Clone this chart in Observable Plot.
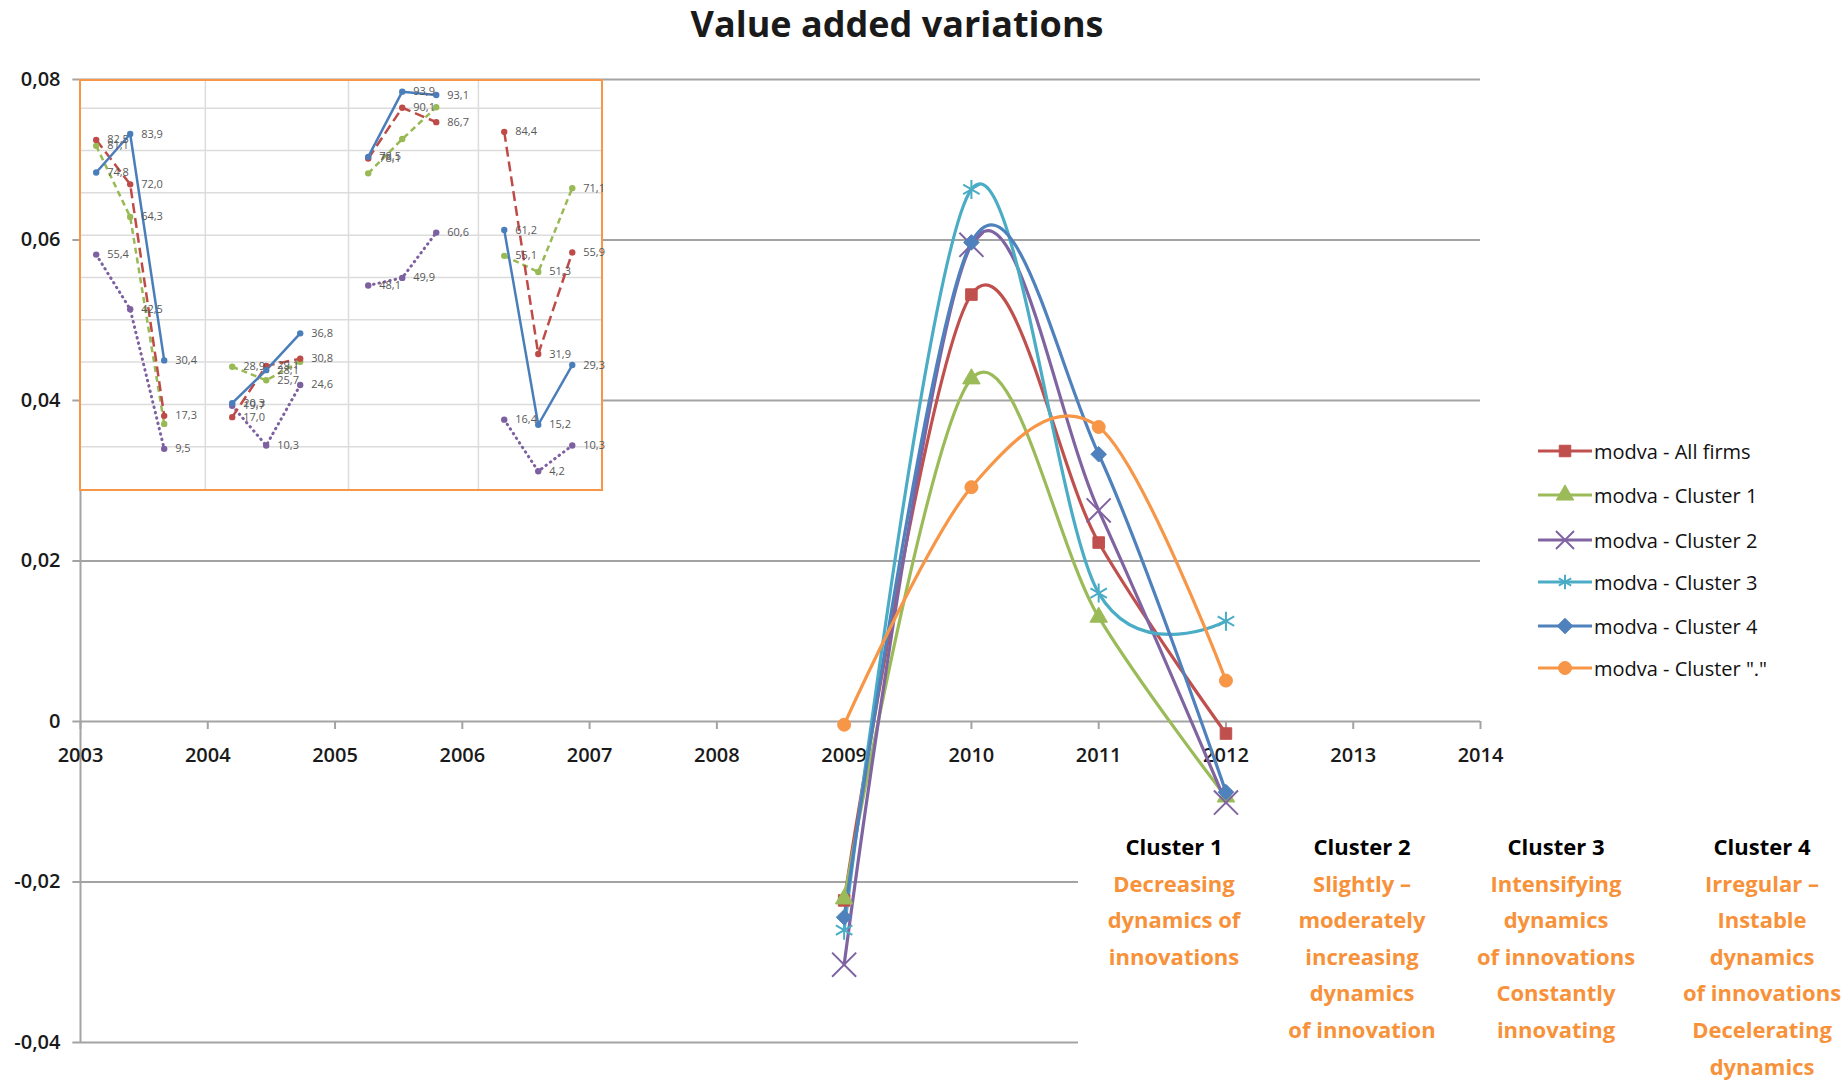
<!DOCTYPE html>
<html>
<head>
<meta charset="utf-8">
<script src="https://cdn.jsdelivr.net/npm/d3@7"></script>
<script src="https://cdn.jsdelivr.net/npm/@observablehq/plot@0.6"></script>
<style>
  body { margin: 0; background: #fff; }
  #wrap { position: relative; width: 1848px; height: 1081px; overflow: hidden; font-family: "Open Sans", "Noto Sans", sans-serif; background: #fff; }
  #main { position: absolute; left: 0; top: 0; }
  #title { position: absolute; left: 497px; top: 0; width: 800px; text-align: center; font-size: 36px; line-height: 48px; font-weight: 700; color: #1a1a1a; }
  #inset { position: absolute; left: 79px; top: 79px; border: 2px solid #F79646; background: #fff; line-height: 0; }
  #legend { position: absolute; left: 1538px; top: 0; }
  .lg-row { position: absolute; left: 0; height: 24px; display: flex; align-items: center; white-space: nowrap; font-size: 20px; color: #111; }
  .lg-row svg { margin-right: 2px; }
  #notes { position: absolute; left: 1078px; top: 822px; width: 770px; height: 259px; background: #fff; }
  .col { position: absolute; top: 6px; width: 200px; margin-left: -100px; text-align: center; font-size: 22px; font-weight: 700; line-height: 36.6px; color: #F7923A; white-space: nowrap; }
  .col .head { color: #000; }
</style>
</head>
<body>
<div id="wrap">
  <div id="main"></div>
  <div id="title">Value added variations</div>
  <div id="inset"></div>
  <div id="legend"></div>
  <div id="notes"></div>
</div>
<script>
// ---- main chart data: yearly value added variation per group ----
const years = [2009, 2010, 2011, 2012];
const seriesNames = [
  "modva - All firms",
  "modva - Cluster 1",
  "modva - Cluster 2",
  "modva - Cluster 3",
  "modva - Cluster 4",
  'modva - Cluster "."'
];
const allFirms   = [-0.0223, 0.0532, 0.0223, -0.0015];
const cluster1   = [-0.0221, 0.0427, 0.0130, -0.0094];
const cluster2   = [-0.0303, 0.0594, 0.0263, -0.0101];
const cluster3   = [-0.0260, 0.0663, 0.0160,  0.0125];
const cluster4   = [-0.0244, 0.0597, 0.0333, -0.0088];
const clusterDot = [-0.0004, 0.0292, 0.0367,  0.0051];

const axisYears = [2003, 2004, 2005, 2006, 2007, 2008, 2009, 2010, 2011, 2012, 2013, 2014];
const yTicks = [0.08, 0.06, 0.04, 0.02, 0, -0.02, -0.04];

// ---- inset data: four groups of three observations per profile ----
const insetSlots  = [0, 1, 2, 4, 5, 6, 8, 9, 10, 12, 13, 14];
const insetBlue   = [74.8, 83.9, 30.4, 20.3, 28.1, 36.8, 78.5, 93.9, 93.1, 61.2, 15.2, 29.3];
const insetRed    = [82.5, 72.0, 17.3, 17.0, 29.1, 30.8, 78.1, 90.1, 86.7, 84.4, 31.9, 55.9];
const insetGreen  = [81.1, 64.3, 15.4, 28.9, 25.7, 30.1, 74.6, 82.7, 90.2, 55.1, 51.3, 71.1];
const insetPurple = [55.4, 42.5,  9.5, 19.7, 10.3, 24.6, 48.1, 49.9, 60.6, 16.4,  4.2, 10.3];
// which inset points carry a value label
const insetGreenLabeled = [true, true, false, true, true, false, false, false, false, true, true, true];
const insetGridValues = [10, 20, 30, 40, 50, 60, 70, 80, 90];
const insetGroupDividers = [3.21, 7.42, 11.24];

// ---- cluster descriptions ----
const noteHeads = ["Cluster 1", "Cluster 2", "Cluster 3", "Cluster 4"];
const noteLines = [
  ["Decreasing", "dynamics of", "innovations"],
  ["Slightly \u2013", "moderately", "increasing", "dynamics", "of innovation"],
  ["Intensifying", "dynamics", "of innovations", "Constantly", "innovating"],
  ["Irregular \u2013", "Instable", "dynamics", "of innovations", "Decelerating", "dynamics"]
];

// ---- styling ----
const seriesStyle = {
  "modva - All firms":   {color: "#C0504D", symbol: d3.symbolSquare,   r: 6.5, filled: true},
  "modva - Cluster 1":   {color: "#9BBB59", symbol: d3.symbolTriangle, r: 6.5, filled: true},
  "modva - Cluster 2":   {color: "#8064A2", symbol: d3.symbolTimes,    r: 11,  filled: false},
  "modva - Cluster 3":   {color: "#4BACC6", symbol: d3.symbolAsterisk, r: 9,   filled: false},
  "modva - Cluster 4":   {color: "#4F81BD", symbol: d3.symbolDiamond2, r: 7,   filled: true},
  'modva - Cluster "."': {color: "#F79646", symbol: d3.symbolCircle,   r: 6.5, filled: true}
};
const gridColor = "#a3a3a3";
const axisFont = "'Open Sans', 'Noto Sans', sans-serif";

const commaFmt = d3.formatLocale({decimal: ",", thousands: ".", grouping: [3], currency: ["", ""], minus: "-"});
const yFmt = v => v === 0 ? "0" : commaFmt.format(".2f")(v);
const insetFmt = commaFmt.format(".1f");

const seriesValues = [allFirms, cluster1, cluster2, cluster3, cluster4, clusterDot];
const rows = seriesNames.flatMap((name, s) =>
  years.map((year, i) => ({series: name, year, value: seriesValues[s][i]})));

// ---- main chart ----
const main = Plot.plot({
  width: 1848,
  height: 1081,
  marginLeft: 80,
  marginRight: 368,
  marginTop: 79,
  marginBottom: 39,
  x: {domain: [axisYears[0], axisYears[axisYears.length - 1]], axis: null},
  y: {domain: [yTicks[yTicks.length - 1], yTicks[0]], axis: null},
  color: {domain: seriesNames, range: seriesNames.map(n => seriesStyle[n].color)},
  style: {background: "transparent", overflow: "visible"},
  marks: [
    Plot.ruleY(yTicks, {y: d => d, x1: axisYears[0] - 0.06, x2: axisYears[axisYears.length - 1], stroke: gridColor, strokeWidth: 2}),
    Plot.ruleX([axisYears[0]], {x: d => d, y1: yTicks[yTicks.length - 1], y2: yTicks[0], stroke: gridColor, strokeWidth: 2}),
    Plot.ruleX(axisYears, {x: d => d, y1: 0, y2: -0.001, stroke: gridColor, strokeWidth: 2}),
    Plot.text(axisYears, {x: d => d, y: () => 0, dy: 34, text: d => String(d), fontSize: 20, fontWeight: 600, fill: "#1a1a1a", fontFamily: axisFont}),
    Plot.text(yTicks, {x: () => axisYears[0], y: d => d, dx: -20, textAnchor: "end", text: yFmt, fontSize: 20, fontWeight: 600, fill: "#1a1a1a", fontFamily: axisFont}),
    Plot.line(rows, {x: "year", y: "value", z: "series", stroke: "series", strokeWidth: 3.2, curve: "cardinal", tension: 0}),
    ...seriesNames.map(name => {
      const st = seriesStyle[name];
      return Plot.dot(rows.filter(d => d.series === name), {
        x: "year", y: "value", symbol: () => st.symbol, r: st.r,
        fill: st.filled ? st.color : "none", stroke: st.color, strokeWidth: st.filled ? 1 : 2
      });
    })
  ]
});
document.getElementById("main").appendChild(main);

// ---- inset chart ----
const insetRows = (values, name, labeled) => insetSlots.map((slot, i) => ({
  slot, value: values[i], series: name, group: Math.floor(slot / 4), labeled: labeled ? labeled[i] : true
}));
const blueRows = insetRows(insetBlue, "blue");
const redRows = insetRows(insetRed, "red");
const greenRows = insetRows(insetGreen, "green", insetGreenLabeled);
const purpleRows = insetRows(insetPurple, "purple");

const insetColors = {blue: "#4A7EBB", red: "#BE4B48", green: "#98B954", purple: "#7D60A0"};
const insetDash = {blue: null, red: "10,5", green: "6,4", purple: "0.5,5"};
const insetWidth = {blue: 2.5, red: 2.5, green: 2.5, purple: 3};

const insetLine = (data, name) => Plot.line(data, {
  x: "slot", y: "value", z: "group", stroke: insetColors[name], strokeWidth: insetWidth[name],
  strokeDasharray: insetDash[name], strokeLinecap: name === "purple" ? "round" : "butt"
});
const insetDots = (data, name) => Plot.dot(data, {x: "slot", y: "value", r: 3.2, fill: insetColors[name]});
const insetLabels = data => Plot.text(data.filter(d => d.labeled), {
  x: "slot", y: "value", dx: 11, textAnchor: "start", text: d => insetFmt(d.value),
  fontSize: 11, fill: "#595959", fontFamily: axisFont
});

const inset = Plot.plot({
  width: 520,
  height: 408,
  margin: 0,
  x: {domain: [-0.432, 14.86], axis: null},
  y: {domain: [-0.1, 96.3], axis: null},
  style: {background: "#fff", overflow: "visible"},
  marks: [
    Plot.ruleY(insetGridValues, {y: d => d, stroke: "#dcdcdc", strokeWidth: 1.5}),
    Plot.ruleX(insetGroupDividers, {x: d => d, stroke: "#dcdcdc", strokeWidth: 1.5}),
    insetLine(purpleRows, "purple"),
    insetLine(greenRows, "green"),
    insetLine(redRows, "red"),
    insetLine(blueRows, "blue"),
    insetDots(purpleRows, "purple"),
    insetDots(greenRows, "green"),
    insetDots(redRows, "red"),
    insetDots(blueRows, "blue"),
    insetLabels(purpleRows),
    insetLabels(greenRows),
    insetLabels(redRows),
    insetLabels(blueRows)
  ]
});
document.getElementById("inset").appendChild(inset);

// ---- legend ----
const legend = document.getElementById("legend");
const legendTops = [439, 483, 528, 570, 614, 656];
seriesNames.forEach((name, i) => {
  const st = seriesStyle[name];
  const row = document.createElement("div");
  row.className = "lg-row";
  row.style.top = legendTops[i] + "px";
  const ns = "http://www.w3.org/2000/svg";
  const svg = document.createElementNS(ns, "svg");
  svg.setAttribute("width", 54);
  svg.setAttribute("height", 24);
  const ln = document.createElementNS(ns, "line");
  ln.setAttribute("x1", 0); ln.setAttribute("x2", 54);
  ln.setAttribute("y1", 12); ln.setAttribute("y2", 12);
  ln.setAttribute("stroke", st.color); ln.setAttribute("stroke-width", 3);
  svg.appendChild(ln);
  const mk = document.createElementNS(ns, "path");
  const rr = st.filled ? st.r : st.r * 0.75;
  mk.setAttribute("d", d3.symbol(st.symbol, Math.PI * rr * rr)());
  mk.setAttribute("transform", "translate(27,12)");
  mk.setAttribute("fill", st.filled ? st.color : "none");
  mk.setAttribute("stroke", st.color);
  mk.setAttribute("stroke-width", st.filled ? 1 : 2);
  svg.appendChild(mk);
  row.appendChild(svg);
  const label = document.createElement("span");
  label.textContent = name;
  row.appendChild(label);
  legend.appendChild(row);
});

// ---- cluster descriptions ----
const notes = document.getElementById("notes");
const noteCenters = [96, 284, 478, 684];
noteHeads.forEach((head, i) => {
  const col = document.createElement("div");
  col.className = "col";
  col.style.left = noteCenters[i] + "px";
  const h = document.createElement("div");
  h.className = "head";
  h.textContent = head;
  col.appendChild(h);
  noteLines[i].forEach(t => {
    const l = document.createElement("div");
    l.textContent = t;
    col.appendChild(l);
  });
  notes.appendChild(col);
});
</script>
</body>
</html>
